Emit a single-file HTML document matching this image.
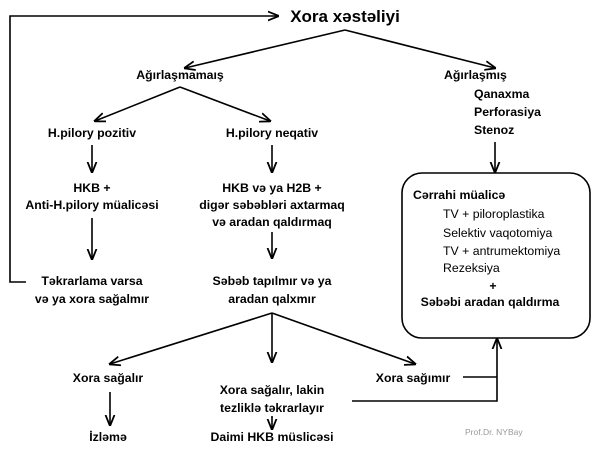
<!DOCTYPE html>
<html><head><meta charset="utf-8"><style>body{margin:0;background:#fff}svg{display:block}text{font-family:"Liberation Sans",sans-serif;font-size:12.3px;font-weight:bold;fill:#000}</style></head><body>
<svg width="600" height="450" viewBox="0 0 600 450">
<defs><marker id="a" viewBox="0 0 10 10" refX="9" refY="5" markerWidth="7" markerHeight="7" orient="auto"><path d="M0,1 L10,5 L0,9" fill="none" stroke="#000" stroke-width="1.6"/></marker></defs>
<g stroke="#000" stroke-width="1.6" fill="none">
<polyline points="26,282 10,282 10,16 278,16" marker-end="url(#a)"/>
<line x1="345" y1="30" x2="185" y2="68" marker-end="url(#a)"/>
<line x1="345" y1="30" x2="495" y2="68" marker-end="url(#a)"/>
<line x1="180" y1="87" x2="95" y2="121" marker-end="url(#a)"/>
<line x1="180" y1="87" x2="270" y2="121" marker-end="url(#a)"/>
<line x1="92" y1="145" x2="92" y2="172" marker-end="url(#a)"/>
<line x1="272" y1="145" x2="272" y2="172" marker-end="url(#a)"/>
<line x1="92" y1="218" x2="92" y2="259" marker-end="url(#a)"/>
<line x1="272" y1="232" x2="272" y2="258" marker-end="url(#a)"/>
<line x1="495" y1="142" x2="495" y2="172" marker-end="url(#a)"/>
<line x1="272" y1="313" x2="110" y2="364" marker-end="url(#a)"/>
<line x1="272" y1="313" x2="272" y2="362" marker-end="url(#a)"/>
<line x1="272" y1="313" x2="415" y2="364" marker-end="url(#a)"/>
<line x1="110" y1="392" x2="110" y2="425" marker-end="url(#a)"/>
<line x1="272" y1="416" x2="272" y2="429" marker-end="url(#a)"/>
<line x1="463" y1="377" x2="497" y2="377"/>
<polyline points="352,401 497,401 497,339" marker-end="url(#a)"/>
<rect x="402" y="173" width="188" height="165" rx="20"/>
</g>
<text x="345" y="22" text-anchor="middle" style="font-size:17px">Xora xəstəliyi</text>
<text x="180" y="79" text-anchor="middle">Ağırlaşmamaış</text>
<text x="444" y="79">Ağırlaşmış</text>
<text x="474" y="98">Qanaxma</text>
<text x="474" y="116">Perforasiya</text>
<text x="474" y="134">Stenoz</text>
<text x="92" y="137" text-anchor="middle">H.pilory pozitiv</text>
<text x="272" y="137" text-anchor="middle">H.pilory neqativ</text>
<text x="92" y="192" text-anchor="middle">HKB +</text>
<text x="92" y="209" text-anchor="middle">Anti-H.pilory müalicəsi</text>
<text x="272" y="192" text-anchor="middle">HKB və ya H2B +</text>
<text x="272" y="209" text-anchor="middle">digər səbəbləri axtarmaq</text>
<text x="272" y="226" text-anchor="middle">və aradan qaldırmaq</text>
<text x="92" y="285" text-anchor="middle">Təkrarlama varsa</text>
<text x="92" y="303" text-anchor="middle">və ya xora sağalmır</text>
<text x="272" y="285" text-anchor="middle">Səbəb tapılmır və  ya</text>
<text x="272" y="303" text-anchor="middle">aradan qalxmır</text>
<text x="108" y="382" text-anchor="middle">Xora sağalır</text>
<text x="272" y="394" text-anchor="middle">Xora sağalır, lakin</text>
<text x="272" y="412" text-anchor="middle">tezliklə təkrarlayır</text>
<text x="413" y="382" text-anchor="middle">Xora sağımır</text>
<text x="108" y="441" text-anchor="middle">İzləmə</text>
<text x="272" y="441" text-anchor="middle">Daimi HKB müslicəsi</text>
<text x="413" y="199">Cərrahi müalicə</text>
<text x="443" y="218" style="font-weight:normal">TV + piloroplastika</text>
<text x="443" y="237" style="font-weight:normal">Selektiv vaqotomiya</text>
<text x="443" y="255" style="font-weight:normal">TV + antrumektomiya</text>
<text x="443" y="272" style="font-weight:normal">Rezeksiya</text>
<text x="493" y="290" text-anchor="middle">+</text>
<text x="490" y="306" text-anchor="middle">Səbəbi aradan qaldırma</text>
<text x="465" y="435" style="font-size:8.5px;font-weight:normal;fill:#999">Prof.Dr. NYBay</text>
</svg>
</body></html>
